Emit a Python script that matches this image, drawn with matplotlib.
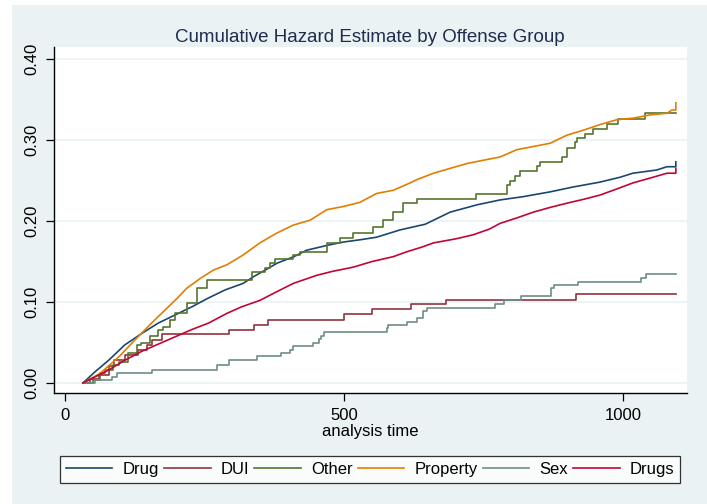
import matplotlib
matplotlib.use("Agg")
import matplotlib.pyplot as plt
from matplotlib.patches import Rectangle

plt.rcParams['font.family'] = ['Liberation Sans', 'DejaVu Sans']

# cumulative hazard readings (analysis time, estimate)
drug_t = [32, 54, 78, 107, 137, 167, 197, 227, 257, 287, 319, 337, 360, 380, 410, 433, 470,
          498, 530, 558, 600, 645, 690, 738, 779, 820, 869, 910, 958, 994, 1017, 1060, 1078, 1094,
          1094]
drug_h = [0, 0.014, 0.028, 0.047, 0.061, 0.074, 0.084, 0.094, 0.105, 0.115, 0.123, 0.131, 0.140,
          0.148, 0.156, 0.164, 0.170, 0.174, 0.177, 0.180, 0.189, 0.196, 0.211, 0.220, 0.226, 0.230,
          0.236, 0.242, 0.248, 0.254, 0.259, 0.263, 0.267, 0.267, 0.273]

dui_t = [32, 45, 60, 78, 87, 107, 130, 146, 155, 173, 293, 339, 364, 500, 550, 620, 682, 915, 1094]
dui_h = [0, 0.005, 0.010, 0.021, 0.028, 0.035, 0.041, 0.047, 0.053, 0.060, 0.066, 0.072, 0.078,
         0.085, 0.091, 0.097, 0.103, 0.110, 0.110]

other_t = [32, 50, 63, 72, 86, 96, 113, 129, 137, 152, 167, 176, 188, 197, 218, 236, 254, 335,
           358, 367, 376, 409, 421, 469, 493, 516, 552, 570, 588, 606, 630, 736, 792, 797, 806,
           815, 845, 851, 890, 899, 913, 917, 931, 946, 971, 991, 1039, 1094]
other_h = [0, 0.004, 0.012, 0.016, 0.022, 0.026, 0.037, 0.047, 0.049, 0.058, 0.065, 0.069, 0.078,
           0.086, 0.099, 0.117, 0.127, 0.137, 0.142, 0.148, 0.153, 0.158, 0.162, 0.173, 0.179,
           0.185, 0.193, 0.201, 0.211, 0.222, 0.227, 0.233, 0.244, 0.250, 0.256, 0.262, 0.268,
           0.273, 0.279, 0.290, 0.297, 0.302, 0.308, 0.314, 0.320, 0.326, 0.333, 0.333]

property_t = [32, 63, 96, 125, 155, 185, 200, 218, 242, 266, 290, 319, 349, 379, 409, 439, 469,
              499, 528, 558, 588, 618, 630, 660, 690, 720, 749, 779, 809, 839, 869, 899, 928, 958,
              988, 1018, 1048, 1078, 1087, 1094, 1094]
property_h = [0, 0.012, 0.032, 0.053, 0.074, 0.094, 0.104, 0.117, 0.129, 0.1395, 0.146, 0.158,
              0.173, 0.185, 0.195, 0.201, 0.214, 0.218, 0.223, 0.234, 0.238, 0.247, 0.251, 0.259,
              0.265, 0.271, 0.275, 0.279, 0.288, 0.292, 0.296, 0.306, 0.312, 0.319, 0.325, 0.327,
              0.331, 0.333, 0.337, 0.337, 0.346]

sex_t = [32, 54, 84, 93, 155, 272, 293, 344, 387, 403, 409, 445, 455, 459, 464, 576, 579, 612,
         630, 641, 648, 770, 786, 816, 870, 876, 919, 1032, 1040, 1094]
sex_h = [0, 0.004, 0.007, 0.012, 0.016, 0.022, 0.028, 0.033, 0.037, 0.041, 0.046, 0.050, 0.054,
         0.058, 0.0625, 0.0675, 0.0716, 0.0757, 0.080, 0.089, 0.093, 0.098, 0.102, 0.107, 0.117,
         0.121, 0.125, 0.130, 0.1346, 0.1346]

drugs_t = [32, 78, 107, 137, 167, 197, 227, 257, 290, 316, 349, 380, 409, 451, 480, 516, 550,
           588, 612, 640, 660, 700, 731, 760, 779, 810, 839, 870, 899, 930, 958, 990, 1017, 1053,
           1078, 1094, 1094]
drugs_h = [0, 0.016, 0.028, 0.039, 0.048, 0.057, 0.066, 0.074, 0.086, 0.094, 0.102, 0.113, 0.123,
           0.133, 0.138, 0.143, 0.150, 0.156, 0.162, 0.168, 0.173, 0.178, 0.183, 0.190, 0.197,
           0.204, 0.211, 0.217, 0.222, 0.227, 0.232, 0.240, 0.247, 0.254, 0.259, 0.259, 0.265]

labels = ["Drug", "DUI", "Other", "Property", "Sex", "Drugs"]
colors = ["#1A476F", "#90353B", "#55752F", "#E37E00", "#6E8E84", "#C10534"]
series = [(drug_t, drug_h), (dui_t, dui_h), (other_t, other_h),
          (property_t, property_h), (sex_t, sex_h), (drugs_t, drugs_h)]
# the big groups have many tiny jumps, so their readings are joined directly
stepped = [False, True, True, False, True, False]

bg = "#EAF2F3"
W, H = 707, 504
fig = plt.figure(figsize=(W / 100, H / 100), dpi=100)
fig.patch.set_facecolor("white")
fig.patches.append(Rectangle((12 / W, 0), 1 - 12 / W, 1 - 5 / H, transform=fig.transFigure,
                             facecolor=bg, edgecolor="none", zorder=-10))

ax = fig.add_axes([54 / W, (H - 393) / H, (687 - 54) / W, (393 - 47) / H])
ax.set_facecolor("white")

for (t, h), lab, c, st in zip(series, labels, colors, stepped):
    ax.plot(t, h, drawstyle="steps-post" if st else "default", color=c, lw=1.2, label=lab)

ax.set_xlim(-19.7, 1114)
ax.set_ylim(-0.0123, 0.4148)
ax.set_xticks([0, 500, 1000])
ax.set_yticks([0, 0.1, 0.2, 0.3, 0.4])
ax.set_yticklabels(["0.00", "0.10", "0.20", "0.30", "0.40"], rotation=90, va="center")
ax.yaxis.grid(True, color=bg, lw=1.2)
ax.set_axisbelow(True)
for s in ["top", "right"]:
    ax.spines[s].set_visible(False)
for s in ["left", "bottom"]:
    ax.spines[s].set_color("black")
    ax.spines[s].set_linewidth(1.0)
ax.tick_params(axis="both", labelsize=12, length=6, width=0.9, color="black", pad=4.5)
ax.set_xlabel("analysis time", fontsize=12, labelpad=1)

fig.suptitle("Cumulative Hazard Estimate by Offense Group", x=370 / W, y=1 - 42 / H,
             va="baseline", fontsize=13.5, color="#1E2D4F")

leg = fig.legend(loc="lower left", bbox_to_anchor=(60 / W, (H - 483) / H, 620 / W, 28 / H),
                 mode="expand", ncol=6, fontsize=12, handlelength=2.8, handletextpad=0.6,
                 columnspacing=0.3, borderpad=0.35, borderaxespad=0, frameon=True,
                 fancybox=False)
leg.get_frame().set_edgecolor("black")
leg.get_frame().set_linewidth(0.9)
leg.get_frame().set_facecolor("white")

fig.savefig("out.png", dpi=100, facecolor=fig.get_facecolor())
